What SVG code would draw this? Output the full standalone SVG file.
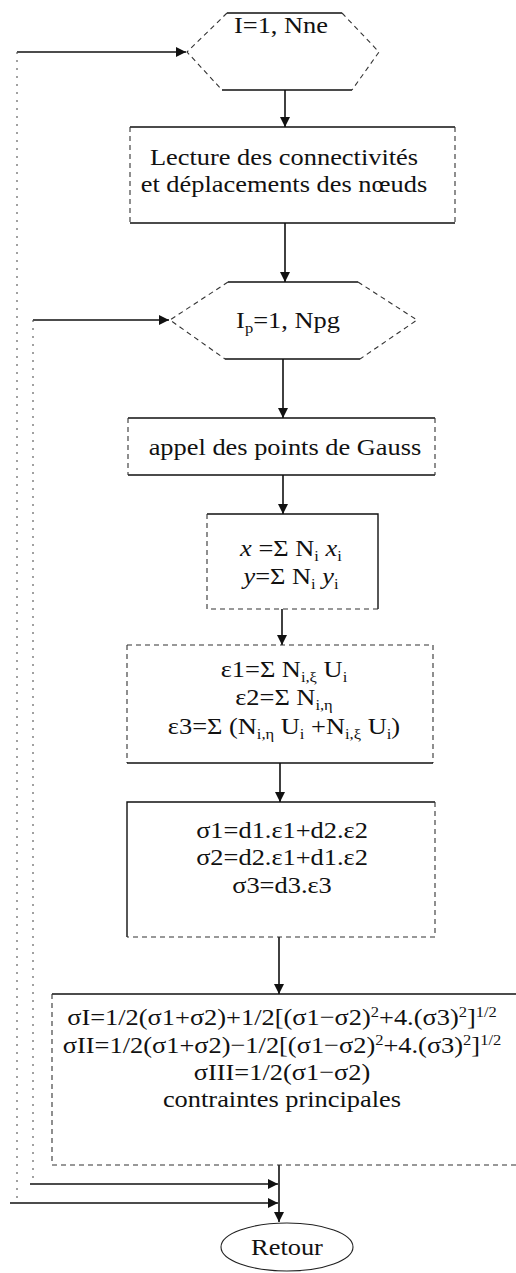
<svg xmlns="http://www.w3.org/2000/svg" width="516" height="1273" viewBox="0 0 516 1273">
<style>
.solid{fill:none;stroke:#111;stroke-width:1.4}
.dash{fill:none;stroke:#333;stroke-width:1.1;stroke-dasharray:5 4}
.dot{fill:none;stroke:#555;stroke-width:1.1;stroke-dasharray:2 6}
.thin{fill:none;stroke:#222;stroke-width:1.1}
.arr{fill:none;stroke:#111;stroke-width:1.6}
text{font-family:"Liberation Serif","Times New Roman",serif;font-size:24px;fill:#111;text-anchor:middle}
.s{font-size:15px}
.it{font-style:italic}
</style>
<defs>
<marker id="ah" markerUnits="userSpaceOnUse" markerWidth="11" markerHeight="11" refX="10" refY="5" orient="auto">
<path d="M0,0 L10,5 L0,10 z" fill="#111"/>
</marker>
</defs>
<rect width="516" height="1273" fill="#fff"/>
<g id="connectors">
<path class="arr" d="M17,52 H186" marker-end="url(#ah)"/>
<path class="dot" d="M17,52 V1203"/>
<path class="arr" d="M10,1203 H278" marker-end="url(#ah)"/>
<path class="arr" d="M33,320 H169" marker-end="url(#ah)"/>
<path class="dot" d="M33,320 V1184"/>
<path class="arr" d="M30,1184 H278" marker-end="url(#ah)"/>
<path class="arr" d="M285,90 V127" marker-end="url(#ah)"/>
<path class="arr" d="M285,223 V282" marker-end="url(#ah)"/>
<path class="arr" d="M283,359 V418" marker-end="url(#ah)"/>
<path class="arr" d="M283,475 V514" marker-end="url(#ah)"/>
<path class="arr" d="M282,609 V645" marker-end="url(#ah)"/>
<path class="arr" d="M280,763 V802" marker-end="url(#ah)"/>
<path class="arr" d="M279,937 V994" marker-end="url(#ah)"/>
<path class="arr" d="M279,1165 V1222" marker-end="url(#ah)"/>
</g>
<g id="loop1">
<path class="solid" d="M227,13 H342 M222,90 H352"/>
<path class="dash" d="M227,13 L187,52 L222,90 M342,13 L379,52 L352,90"/>
<text x="281" y="33" transform="matrix(1.1,0,0,1,-28.1,0)">I=1, Nne</text>
</g>
<g id="lecture">
<path class="solid" d="M130,127 H455 M130,223 H455"/>
<path class="dash" d="M130,127 V223 M455,127 V223"/>
<g transform="matrix(1.1,0,0,1,-28.4,0)">
<text x="284" y="165">Lecture des connectivités</text>
<text x="284" y="192">et déplacements des nœuds</text>
</g>
</g>
<g id="loop2">
<path class="solid" d="M228,282 H358 M225,359 H360"/>
<path class="dash" d="M228,282 L170,320 L225,359 M358,282 L417,320 L360,359"/>
<text x="288" y="328" transform="matrix(1.1,0,0,1,-28.8,0)">I<tspan class="s" dy="5">p</tspan><tspan dy="-5">=1, Npg</tspan></text>
</g>
<g id="gauss">
<path class="solid" d="M128,418 H435 M128,475 H435"/>
<path class="dash" d="M128,418 V475 M435,418 V475"/>
<text x="285" y="455" transform="matrix(1.1,0,0,1,-28.5,0)">appel des points de Gauss</text>
</g>
<g id="coords">
<path class="solid" d="M207,514 H378 V609"/>
<path class="dash" d="M207,514 V609 H378"/>
<g transform="matrix(1.1,0,0,1,-29.1,0)">
<text x="291" y="556"><tspan class="it">x</tspan> =Σ N<tspan class="s" dy="5">i</tspan><tspan dy="-5"> </tspan><tspan class="it">x</tspan><tspan class="s" dy="5">i</tspan></text>
<text x="291" y="584"><tspan class="it">y</tspan>=Σ N<tspan class="s" dy="5">i</tspan><tspan dy="-5"> </tspan><tspan class="it">y</tspan><tspan class="s" dy="5">i</tspan></text>
</g>
</g>
<g id="strains">
<path class="dash" d="M127,645 H433 V763 M127,645 V763"/>
<path class="solid" d="M127,763 H433"/>
<g transform="matrix(1.1,0,0,1,-28.4,0)">
<text x="284" y="677">ε1=Σ N<tspan class="s" dy="5">i,ξ</tspan><tspan dy="-5"> U</tspan><tspan class="s" dy="5">i</tspan></text>
<text x="284" y="705">ε2=Σ N<tspan class="s" dy="5">i,η</tspan></text>
<text x="284" y="734">ε3=Σ (N<tspan class="s" dy="5">i,η</tspan><tspan dy="-5"> U</tspan><tspan class="s" dy="5">i</tspan><tspan dy="-5"> +N</tspan><tspan class="s" dy="5">i,ξ</tspan><tspan dy="-5"> U</tspan><tspan class="s" dy="5">i</tspan><tspan dy="-5">)</tspan></text>
</g>
</g>
<g id="stresses">
<path class="solid" d="M127,937 V802 H435"/>
<path class="dash" d="M435,802 V937 H127"/>
<g transform="matrix(1.1,0,0,1,-28.2,0)">
<text x="282" y="838">σ1=d1.ε1+d2.ε2</text>
<text x="282" y="865">σ2=d2.ε1+d1.ε2</text>
<text x="282" y="893">σ3=d3.ε3</text>
</g>
</g>
<g id="principal">
<path class="solid" d="M52,994 H516"/>
<path class="dash" d="M52,994 V1165 H516"/>
<g transform="matrix(1.1,0,0,1,-28.2,0)">
<text x="282" y="1025">σI=1/2(σ1+σ2)+1/2[(σ1−σ2)<tspan class="s" dy="-8">2</tspan><tspan dy="8">+4.(σ3)</tspan><tspan class="s" dy="-8">2</tspan><tspan dy="8">]</tspan><tspan class="s" dy="-8">1/2</tspan></text>
<text x="282" y="1053">σII=1/2(σ1+σ2)−1/2[(σ1−σ2)<tspan class="s" dy="-8">2</tspan><tspan dy="8">+4.(σ3)</tspan><tspan class="s" dy="-8">2</tspan><tspan dy="8">]</tspan><tspan class="s" dy="-8">1/2</tspan></text>
<text x="282" y="1080">σIII=1/2(σ1−σ2)</text>
<text x="282" y="1107">contraintes principales</text>
</g>
</g>
<g id="retour">
<ellipse class="thin" cx="287" cy="1247" rx="66" ry="24"/>
<text x="287" y="1255" transform="matrix(1.1,0,0,1,-28.7,0)">Retour</text>
</g>
</svg>
